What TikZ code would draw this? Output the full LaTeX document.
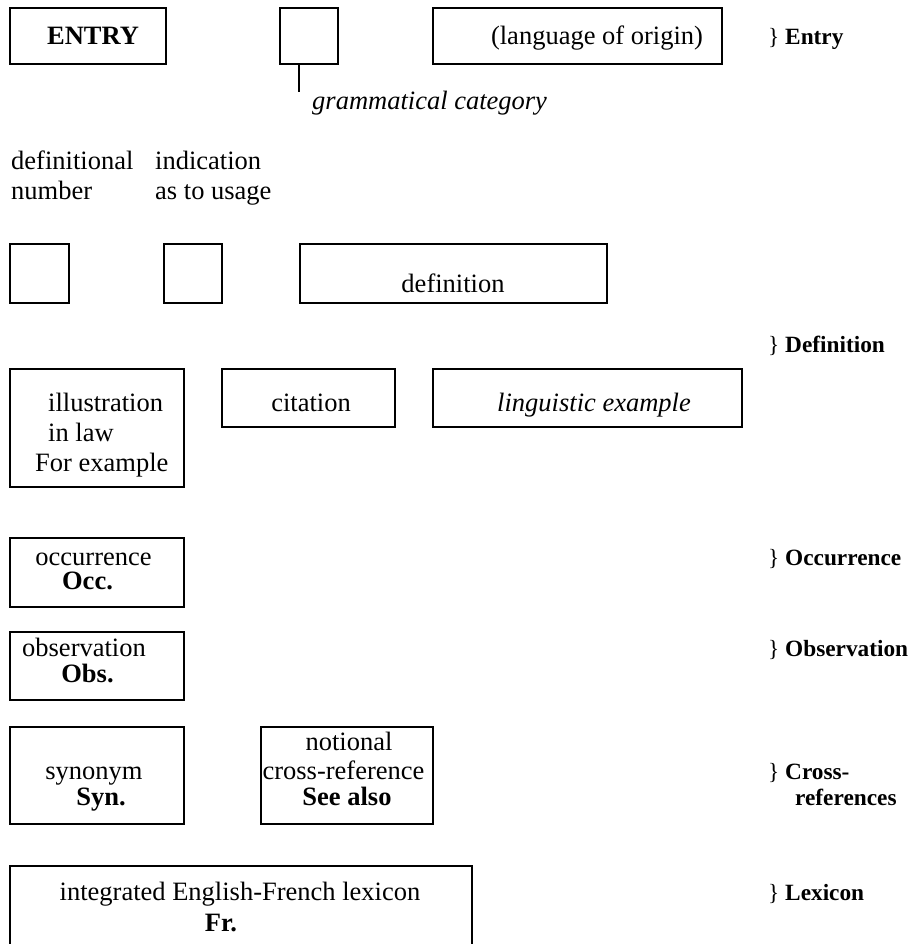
\documentclass[tikz,border=0pt]{standalone}
\usepackage{fontspec}
\setmainfont{Liberation Serif}

\begin{document}
\begin{tikzpicture}[x=1pt,y=-1pt,
		box/.style={draw,line width=1.6pt,inner sep=0pt},
		lab/.style={inner sep=0pt,font=\fontsize{26.5}{30}\selectfont},
		grp/.style={lab,anchor=base west,font=\fontsize{23.3}{26}\selectfont}]
				\useasboundingbox (0,0) rectangle (917,944);
				% entry
				\node[box,minimum width=156pt,minimum height=56pt] (entrybox) at (88,36) {};
				\node[box,minimum width=58pt,minimum height=56pt] (catbox) at (309,36) {};
				\node[box,minimum width=289pt,minimum height=56pt] (originbox) at (577.5,36) {};
				\node[lab,anchor=base] (entrytxt) at (93,45) {\textbf{ENTRY}};
				\node[lab,anchor=base] (origintxt) at (597,45) {(language of origin)};
				\node[grp] (entrygrp) at (768,45) {\} \textbf{Entry}};
				\coordinate (gcat) at (299,92);
				\draw[line width=1.2pt] (gcat |- catbox.south) -- (gcat);
				\node[lab,anchor=base west] (gcattxt) at (312,110) {\textit{grammatical category}};
				% definition
				\node[lab,anchor=base west] (numtxt1) at (11,170) {definitional};
				\node[lab,anchor=base west] (numtxt2) at (11,199) {number};
				\node[lab,anchor=base west] (usetxt1) at (155,170) {indication};
				\node[lab,anchor=base west] (usetxt2) at (155,199) {as to usage};
				\node[box,minimum width=59pt,minimum height=59pt] (numbox) at (39.5,273.5) {};
				\node[box,minimum width=58pt,minimum height=59pt] (usagebox) at (193,273.5) {};
				\node[box,minimum width=307pt,minimum height=59pt] (defbox) at (453.5,273.5) {};
				\node[lab,anchor=base] (deftxt) at (453,292) {definition};
				\node[grp] (defgrp) at (768,352) {\} \textbf{Definition}};
				\node[box,minimum width=174pt,minimum height=118pt] (illbox) at (97,428) {};
				\node[box,minimum width=173pt,minimum height=58pt] (citbox) at (308.5,398) {};
				\node[box,minimum width=309pt,minimum height=58pt] (lingbox) at (587.5,398) {};
				\node[lab,anchor=base west] (illtxt1) at (48,411) {illustration};
				\node[lab,anchor=base west] (illtxt2) at (48,441) {in law};
				\node[lab,anchor=base west] (illtxt3) at (35,471) {For example};
				\node[lab,anchor=base] (cittxt) at (311,411) {citation};
				\node[lab,anchor=base] (lingtxt) at (594,411) {\textit{linguistic example}};
				% occurrence, observation
				\node[box,minimum width=174pt,minimum height=69pt] (occbox) at (97,572.5) {};
				\node[lab,anchor=base] (occtxt1) at (93.5,565) {occurrence};
				\node[lab,anchor=base] (occtxt2) at (87.5,589) {\textbf{Occ.}};
				\node[grp] (occgrp) at (768,565) {\} \textbf{Occurrence}};
				\node[box,minimum width=174pt,minimum height=68pt] (obsbox) at (97,666) {};
				\node[lab,anchor=base] (obstxt1) at (84,656) {observation};
				\node[lab,anchor=base] (obstxt2) at (87.5,682) {\textbf{Obs.}};
				\node[grp] (obsgrp) at (768,656) {\} \textbf{Observation}};
				% cross-references
				\node[box,minimum width=174pt,minimum height=97pt] (synbox) at (97,775.5) {};
				\node[box,minimum width=172pt,minimum height=97pt] (seebox) at (347,775.5) {};
				\node[lab,anchor=base] (syntxt1) at (94,779) {synonym};
				\node[lab,anchor=base] (syntxt2) at (101,805) {\textbf{Syn.}};
				\node[lab,anchor=base] (seetxt1) at (349,750) {notional};
				\node[lab,anchor=base] (seetxt2) at (343.5,779) {cross-reference};
				\node[lab,anchor=base] (seetxt3) at (347,805) {\textbf{See also}};
				\node[grp] (crossgrp1) at (768,779) {\} \textbf{Cross-}};
				\node[grp] (crossgrp2) at (795,805) {\textbf{references}};
				% lexicon
				\node[box,minimum width=462pt,minimum height=84pt] (lexbox) at (241,908) {};
				\node[lab,anchor=base] (lextxt1) at (240,900) {integrated English-French lexicon};
				\node[lab,anchor=base] (lextxt2) at (221,931) {\textbf{Fr.}};
				\node[grp] (lexgrp) at (768,900) {\} \textbf{Lexicon}};
			\end{tikzpicture}
\end{document}
